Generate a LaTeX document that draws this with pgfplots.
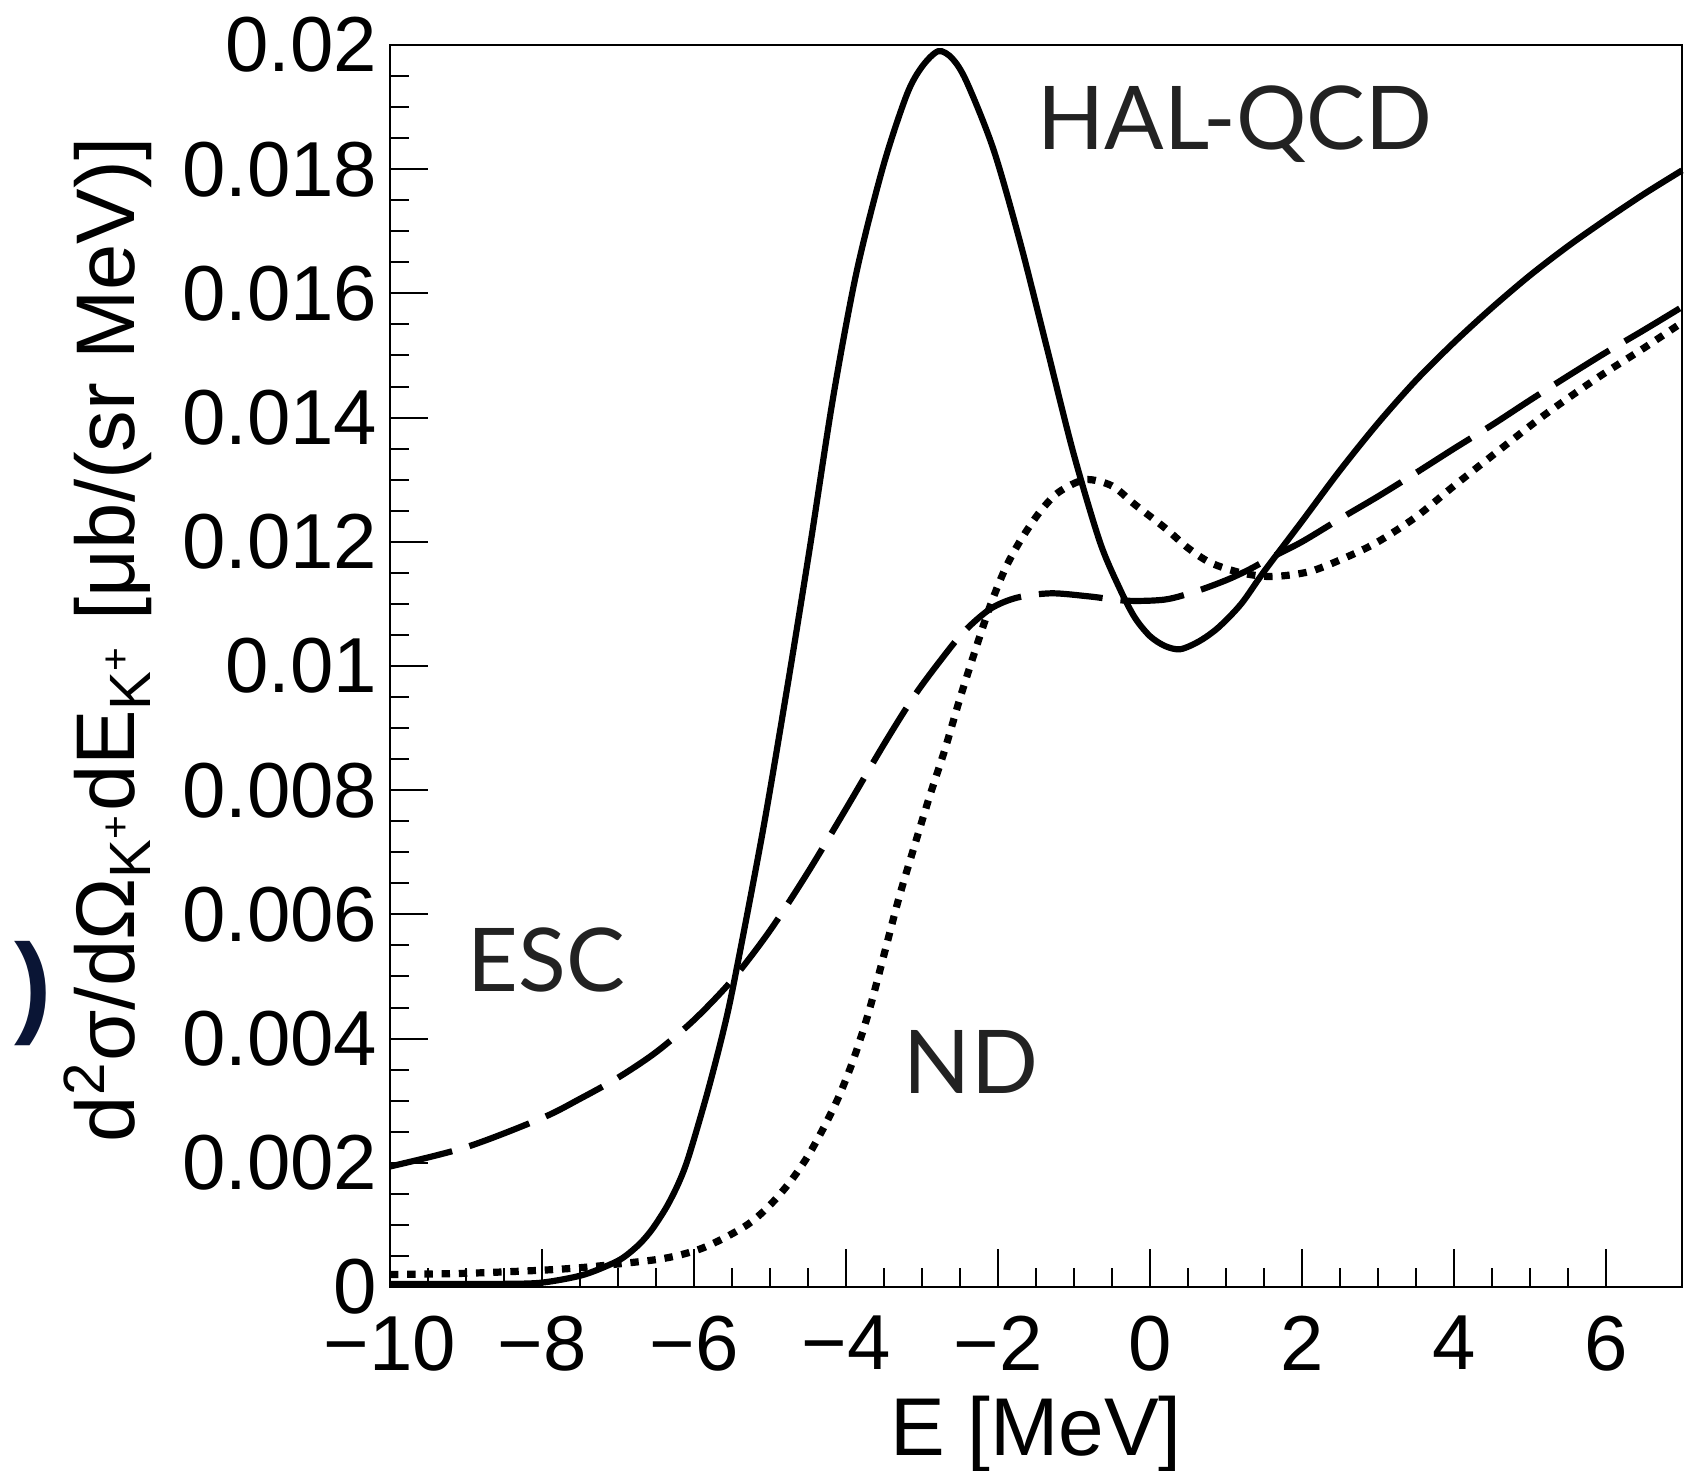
\documentclass[border=0pt]{standalone}
\usepackage{fontspec}
\setmainfont{Liberation Sans}
\newfontfamily\annfont{Lato}
\usepackage{pgfplots}
\usepackage{pgfplotstable}
\pgfplotsset{compat=1.18}
\definecolor{labelgray}{HTML}{222222}
\definecolor{parnavy}{HTML}{0A1535}

% HAL-QCD (solid)
\pgfplotstableread{
E y
-10 0.00005
-9 0.00005
-8.5 0.00005
-8 0.00007
-7.47 0.00019
-7.07 0.00038
-6.9 0.00050
-6.71 0.00070
-6.55 0.00093
-6.36 0.00129
-6.2 0.00168
-6.07 0.00210
-5.83 0.00310
-5.62 0.00409
-5.47 0.00493
-5.09 0.00737
-4.76 0.00975
-4.47 0.01195
-4.17 0.01432
-3.86 0.01635
-3.51 0.01805
-3.20 0.01920
-3.0 0.01965
-2.785 0.01990
-2.6 0.01978
-2.41 0.01940
-2.06 0.01832
-1.71 0.01683
-1.36 0.01514
-1.01 0.01344
-0.66 0.01200
-0.4 0.01125
-0.2 0.01078
0.0 0.01048
0.2 0.01032
0.4 0.01027
0.65 0.01040
0.9 0.01062
1.2 0.01100
1.5 0.01152
2.0 0.01233
2.5 0.01315
3.0 0.01391
3.5 0.01460
4.0 0.01521
4.5 0.01577
5.0 0.01629
5.5 0.01676
6.0 0.01719
6.5 0.01760
7.0 0.01798
}\halqcd

% ESC (dashed)
\pgfplotstableread{
E y
-10 0.00194
-9 0.00225
-8 0.00272
-7.5 0.00303
-7 0.00337
-6.5 0.00378
-6.0 0.00430
-5.5 0.00494
-5.0 0.00574
-4.5 0.00668
-4.0 0.00770
-3.5 0.00874
-3.1 0.00952
-2.75 0.01010
-2.45 0.01055
-2.1 0.01092
-1.75 0.01110
-1.3 0.01117
-0.8 0.01112
-0.3 0.01105
0.2 0.01107
0.6 0.01120
1.0 0.01138
1.3 0.01155
1.6 0.01175
2.0 0.01200
2.5 0.01237
3.0 0.01273
3.5 0.01311
4.0 0.01350
4.5 0.01388
5.0 0.01428
5.5 0.01467
6.0 0.01505
6.5 0.01541
7.0 0.01578
}\esc

% ND (dotted)
\pgfplotstableread{
E y
-10 0.00020
-9 0.00022
-8 0.00027
-7.5 0.00031
-7 0.00037
-6.5 0.00044
-6.2 0.00051
-5.9 0.00062
-5.6 0.00079
-5.3 0.00100
-5.1 0.00120
-4.9 0.00145
-4.7 0.00175
-4.5 0.00211
-4.3 0.00255
-4.1 0.00305
-3.9 0.00367
-3.7 0.00443
-3.5 0.00535
-3.3 0.00628
-3.1 0.00710
-2.9 0.00790
-2.7 0.00865
-2.5 0.00948
-2.3 0.01025
-2.1 0.01098
-1.9 0.01158
-1.7 0.01203
-1.45 0.01248
-1.2 0.01280
-0.85 0.01300
-0.5 0.01290
-0.2 0.01260
0.2 0.01222
0.5 0.01190
0.8 0.01166
1.2 0.01150
1.6 0.01144
2.1 0.01152
2.6 0.01176
3.0 0.01200
3.5 0.01240
4.0 0.01290
4.6 0.01348
5.2 0.01405
5.9 0.01465
6.5 0.01512
7.0 0.01553
}\nd

\begin{document}
\begin{tikzpicture}
\begin{axis}[
    scale only axis,
    width=323pt, height=310.5pt,
    xmin=-10, xmax=7,
    ymin=0, ymax=0.02,
    clip=false,
    axis line style={line width=0.6pt},
    tick align=inside,
    xtick pos=bottom, ytick pos=left,
    major tick length=9.5pt, minor tick length=4.7pt,
    every tick/.append style={line width=0.5pt, black},
    xtick={-10,-8,-6,-4,-2,0,2,4,6},
    xticklabels={−10,−8,−6,−4,−2,0,2,4,6},
    minor x tick num=3,
    ytick={0,0.002,0.004,0.006,0.008,0.01,0.012,0.014,0.016,0.018,0.02},
    yticklabels={0,0.002,0.004,0.006,0.008,0.01,0.012,0.014,0.016,0.018,0.02},
    minor y tick num=3,
    scaled y ticks=false,
    tick label style={font=\fontsize{19.5}{22}\selectfont},
    xticklabel style={anchor=north, inner sep=0pt, yshift=-7pt},
    yticklabel style={anchor=east, inner sep=0pt, xshift=-3pt},
    xlabel={E [MeV]},
    xlabel style={at={(axis description cs:0.5,-0.136)}, anchor=base, inner sep=0pt,
        font=\fontsize{20.5}{24}\selectfont},
    ylabel={d\textsuperscript{2}σ/dΩ\textsubscript{K\textsuperscript{+}}dE\textsubscript{K\textsuperscript{+}} [μb/(sr MeV)]},
    ylabel style={at={(axis description cs:-0.198,0.521)}, anchor=base, rotate=0, inner sep=0pt,
        font=\fontsize{20.8}{24}\selectfont},
]
\addplot[black, line width=1.55pt, smooth] table[x=E, y=y] {\halqcd};
\addplot[black, line width=1.55pt, smooth, dash pattern=on 16pt off 4.5pt] table[x=E, y=y] {\esc};
\addplot[black, line width=1.8pt, smooth, dash pattern=on 2.1pt off 2.2pt] table[x=E, y=y] {\nd};

\node[anchor=base west, inner sep=0pt, text=labelgray, font=\annfont\fontsize{22}{26}\selectfont]
    at (axis cs:-1.49,0.01831) {HAL-QCD};
\node[anchor=base west, inner sep=0pt, text=labelgray, font=\annfont\fontsize{22}{26}\selectfont]
    at (axis cs:-8.99,0.00475) {ESC};
\node[anchor=base west, inner sep=0pt, text=labelgray, font=\annfont\fontsize{22}{26}\selectfont]
    at (axis cs:-3.25,0.00311) {ND};
\node[inner sep=0pt, text=parnavy, font=\bfseries\fontsize{28}{32}\selectfont, xshift=2pt]
    at (axis description cs:-0.2825,0.236) {)};

\coordinate (bbsw) at (axis description cs:-0.30186,-0.14815);
\coordinate (bbne) at (axis description cs:1.00232,1.03623);
\end{axis}
\pgfresetboundingbox
\path (bbsw) rectangle (bbne);
\end{tikzpicture}
\end{document}
